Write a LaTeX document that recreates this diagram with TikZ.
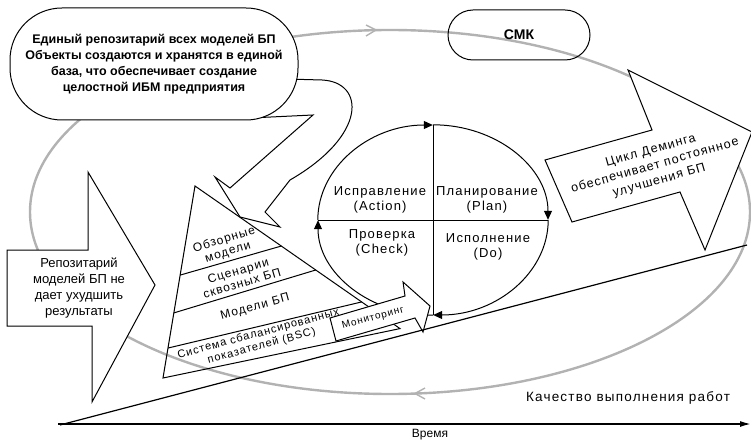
\documentclass[tikz,border=0pt]{standalone}
\usepackage{fontspec}
\setmainfont{Liberation Sans}
\newfontfamily\widefont[LetterSpace=9]{Liberation Sans}
\usetikzlibrary{arrows.meta,shapes.geometric,calc}
\begin{document}
\begin{tikzpicture}[x=1pt,y=-1pt,
  box/.style={draw=black, line width=1pt, line join=miter},
  wbox/.style={box, fill=white},
  loop/.style={draw=gray!60, line width=2.4pt},
  ttxt/.style={inner sep=0pt, align=center, font=\widefont\fontsize{13}{14.5}\selectfont},
  btxt/.style={inner sep=0pt, align=center, font=\bfseries\fontsize{12.5}{16}\selectfont},
  ptxt/.style={inner sep=0pt, align=center, font=\widefont\fontsize{12}{13}\selectfont},
  quarter/.style={draw, line width=1pt, -{Triangle[length=9pt,width=8pt]}}
]
\useasboundingbox (0,0) rectangle (751,446);

% big grey loop (СМК cycle)
\draw[loop] (390,212) ellipse [x radius=360, y radius=182];
\draw[gray!60, line width=1.4pt] (366,25) -- (376,30) -- (366,36);
\draw[gray!60, line width=1.4pt] (425,388) -- (415,393.5) -- (425,399);

% SMK node
\node[box, rounded corners=25pt, minimum width=142pt, minimum height=50pt, font=\bfseries\fontsize{14}{15}\selectfont] (smk) at (519,35) {СМК};

% curved block arrow from repository ellipse to the pyramid
\draw[wbox] (250,118) -- (313,115) -- (230,188) -- (215,177) -- (240,217)
  -- (280,227) -- (265,212) -- (290,180)
  .. controls (368,135) and (365,82) .. (322,80) -- (250,78) -- cycle;

% repository ellipse
\node[wbox, rounded corners=52pt, minimum width=288pt, minimum height=112pt, btxt] (repo) at (154,64)
  {Единый репозитарий всех моделей БП\\Объекты создаются и хранятся в единой\\база, что обеспечивает создание\\целостной ИБМ предприятия};

% left block arrow
\draw[wbox] (7,250) -- (88,250) -- (88,172) -- (155,285) -- (92,402) -- (92,326) -- (7,326) -- cycle;
\node[inner sep=0pt, align=center, font=\fontsize{13}{16.3}\selectfont] (keep) at (79,288) {Репозитарий\\моделей БП не\\дает ухудшить\\результаты};

% Deming block arrow
\draw[wbox] (545,160) -- (652,130) -- (628,70) -- (752,132) -- (705,250) -- (680,192) -- (572,222) -- cycle;
\node[ttxt, rotate=16, font=\widefont\fontsize{12.5}{15.5}\selectfont] (deming) at (655,166) {Цикл Деминга\\обеспечивает постоянное\\улучшения БП};

% pyramid
\coordinate (apex) at (195,186);
\coordinate (bl) at (163,378);
\coordinate (br) at (400,328.6);
\draw[box] (apex) -- (bl) -- (br) -- cycle;
\draw[box] ($(apex)!0.464!(bl)$) -- ($(apex)!0.421!(br)$);
\draw[box] ($(apex)!0.661!(bl)$) -- ($(apex)!0.589!(br)$);
\draw[box] ($(apex)!0.844!(bl)$) -- ($(apex)!0.813!(br)$);
\node[ptxt, rotate=17] (p1) at (226,246) {Обзорные\\модели};
\node[ptxt, rotate=16.5] (p2) at (240,277) {Сценарии\\сквозных БП};
\node[ptxt, rotate=15] (p3) at (255,307) {Модели БП};
\node[ptxt, rotate=15, font=\widefont\fontsize{11}{12.5}\selectfont] (p4) at (260,340) {Система сбалансированных\\показателей (BSC)};

% Deming circle
\node[ellipse, minimum width=230pt, minimum height=190pt, inner sep=0pt] (dc) at (433,220) {};
\draw[box] (dc.north) -- (dc.south);
\draw[box] (dc.west) -- (dc.east);
\draw[quarter] (dc.west) arc[start angle=180, end angle=270, x radius=115, y radius=95];
\draw[quarter] (dc.north) arc[start angle=270, end angle=360, x radius=115, y radius=95];
\draw[quarter] (dc.east) arc[start angle=0, end angle=90, x radius=115, y radius=95];
\draw[quarter] (dc.south) arc[start angle=90, end angle=180, x radius=115, y radius=95];
\node[ttxt] (act) at (380,200) {Исправление\\(Action)};
\node[ttxt] (plan) at (487,200) {Планирование\\(Plan)};
\node[ttxt] (chk) at (382,243) {Проверка\\(Check)};
\node[ttxt] (do) at (488,247) {Исполнение\\(Do)};

% monitoring arrow
\draw[wbox] (330,318) -- (405,296) -- (403,282) -- (430,306) -- (423,332) -- (415,318) -- (336,341) -- cycle;
\node[ttxt, rotate=15, font=\widefont\fontsize{10}{12}\selectfont] (mon) at (373,318) {Мониторинг};

% axes
\coordinate (O) at (60,425);
\coordinate (Q) at (747,245);
\coordinate (T) at (751,424);
\draw[line width=1.2pt] (O) -- (Q);
\draw[line width=1.6pt, -{Latex[length=11pt,width=6pt]}] (58,424) -- (T);
\node[ttxt, font=\widefont\fontsize{13.5}{15}\selectfont] (qual) at (628,398) {Качество выполнения работ};
\node[inner sep=0pt, font=\fontsize{12}{14}\selectfont] (time) at (430,435) {Время};
\end{tikzpicture}
\end{document}
